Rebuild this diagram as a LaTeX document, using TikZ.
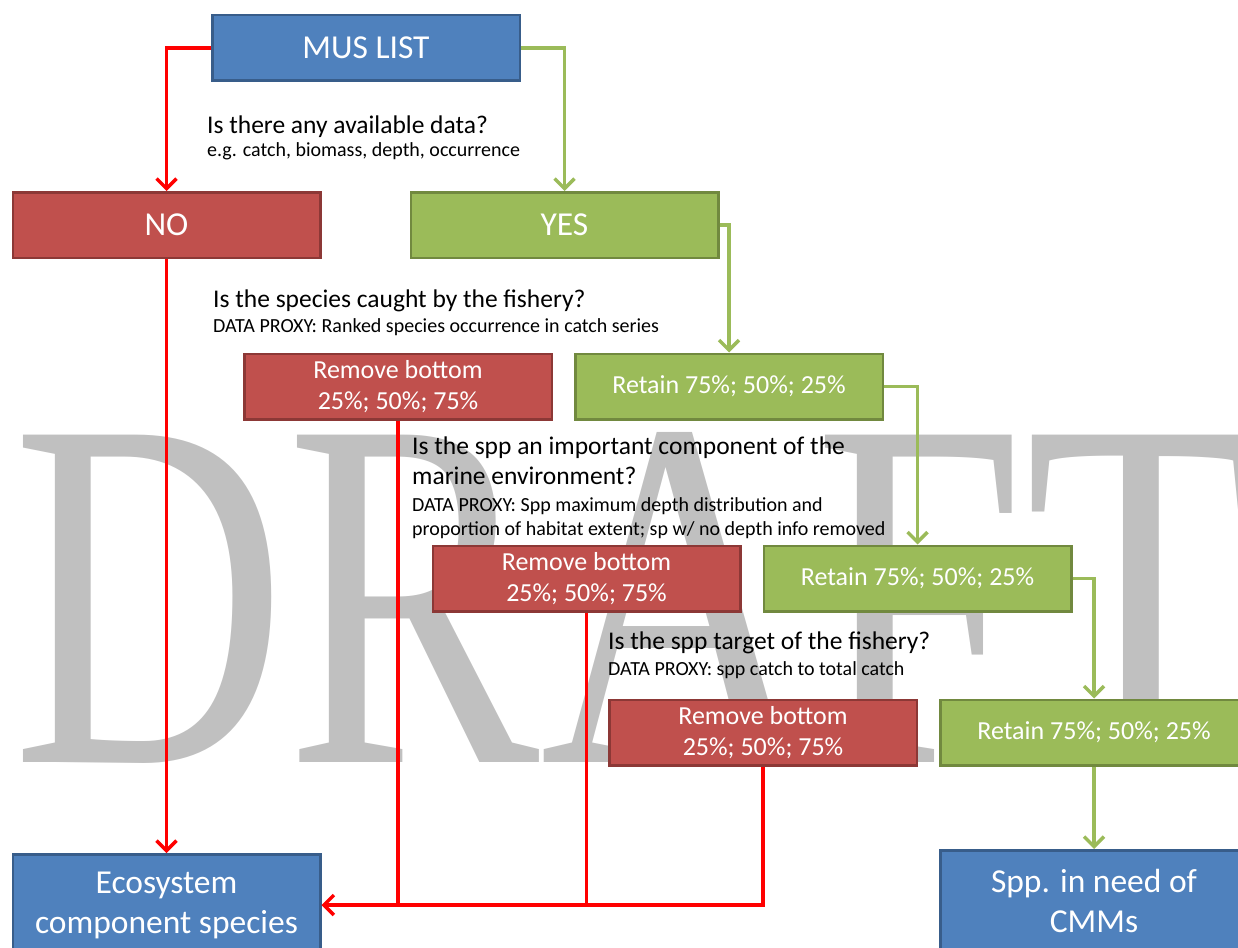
\documentclass[tikz,border=0pt]{standalone}
\usepackage{fontspec}
\setmainfont{Carlito}
\newfontfamily\draftfont[FakeStretch=0.76]{Liberation Serif}
\usepackage{xcolor}
\usepackage{tikz}
\usetikzlibrary{math,arrows.meta}

\definecolor{boxblue}{HTML}{4F81BD}
\definecolor{boxblueedge}{HTML}{385D8A}
\definecolor{boxred}{HTML}{C0504D}
\definecolor{boxrededge}{HTML}{8C3836}
\definecolor{boxgreen}{HTML}{9BBB59}
\definecolor{boxgreenedge}{HTML}{71893F}
\definecolor{draftgrey}{HTML}{C0C0C0}
\definecolor{nored}{HTML}{FF0000}

\begin{document}
\begin{tikzpicture}[x=1pt,y=-1pt,
	box/.style={rectangle,draw,line width=2.5pt,minimum width=307.5pt,minimum height=65.5pt,inner sep=0pt,align=center,text=white},
	bluebox/.style={box,fill=boxblue,draw=boxblueedge,font=\fontsize{33.5}{40}\selectfont},
	redbox/.style={box,fill=boxred,draw=boxrededge,font=\fontsize{26}{31}\selectfont},
	greenbox/.style={box,fill=boxgreen,draw=boxgreenedge,font=\fontsize{26}{31}\selectfont},
	big/.style={font=\fontsize{33.5}{40}\selectfont},
	nopath/.style={draw=nored,line width=3.5pt},
	yespath/.style={draw=boxgreen,line width=3.5pt},
	tip/.style={-{Straight Barb[length=10pt,width=20pt]}},
	question/.style={anchor=base west,inner sep=0pt,font=\fontsize{25.5}{30}\selectfont},
	proxy/.style={anchor=base west,inner sep=0pt,font=\fontsize{20}{24}\selectfont}]
\useasboundingbox (0,0) rectangle (1238,947);
\tikzmath{
	\cl = 166.5; \cy = 564.5;
	\ra = 386.5; \rb = 578.5; \rc = 732.5;
	{\node[anchor=base west,inner sep=0pt,text=draftgrey,font=\draftfont\fontsize{500}{500}\selectfont] (draft) at (12,762) {DRAFT};};
	%
	{\node[bluebox] (mus) at (366,48) {MUS LIST};};
	{\node[redbox,big] (no) at (\cl,225) {NO};};
	{\node[greenbox,big] (yes) at (\cy,225) {YES};};
	{\node[redbox] (rema) at (398,\ra) {Remove bottom\\25\%; 50\%; 75\%};};
	{\node[greenbox] (reta) at (729,\ra) {Retain 75\%; 50\%; 25\%};};
	{\node[redbox] (remb) at (586.5,\rb) {Remove bottom\\25\%; 50\%; 75\%};};
	{\node[greenbox] (retb) at (917.5,\rb) {Retain 75\%; 50\%; 25\%};};
	{\node[redbox] (remc) at (763,\rc) {Remove bottom\\25\%; 50\%; 75\%};};
	{\node[greenbox] (retc) at (1094,\rc) {Retain 75\%; 50\%; 25\%};};
	{\node[bluebox,minimum height=101.5pt] (eco) at (\cl,905) {Ecosystem\\component species};};
	{\node[bluebox,minimum height=101.5pt] (cmm) at (1094,901) {Spp. in need of\\CMMs};};%runs off the page
	%
	{\node[question] (qdata) at (207,133) {Is there any available data?};};
	{\node[proxy] (pdata) at (207,156) {e.g. catch, biomass, depth, occurrence};};
	{\node[question] (qcaught) at (213,307) {Is the species caught by the fishery?};};
	{\node[proxy] (pcaught) at (213,332) {DATA PROXY: Ranked species occurrence in catch series};};
	{\node[question] (qenv) at (412,454) {Is the spp an important component of the};};
	{\node[question] (qenvb) at (412,484) {marine environment?};};
	{\node[proxy] (penv) at (412,511) {DATA PROXY: Spp maximum depth distribution and};};
	{\node[proxy] (penvb) at (412,535) {proportion of habitat extent; sp w/ no depth info removed};};
	{\node[question] (qtarget) at (608,649) {Is the spp target of the fishery?};};
	{\node[proxy] (ptarget) at (608,675) {DATA PROXY: spp catch to total catch};};
	%
	{\draw[nopath,tip] (mus.west) -| (no.north);};
	{\draw[nopath,tip] (no.south) -- (eco.north);};
	{\draw[nopath] (rema.south) -- (rema.south |- eco.east);};
	{\draw[nopath] (remb.south) -- (remb.south |- eco.east);};
	{\draw[nopath,tip] (remc.south) |- (eco.east);};
	{\draw[yespath,tip] (mus.east) -| (yes.north);};
	{\draw[yespath,tip] (yes.east) -| (reta.north);};
	{\draw[yespath,tip] (reta.east) -| (retb.north);};
	{\draw[yespath,tip] (retb.east) -| (retc.north);};
	{\draw[yespath,tip] (retc.south) -- (cmm.north);};
};
\end{tikzpicture}
\end{document}
